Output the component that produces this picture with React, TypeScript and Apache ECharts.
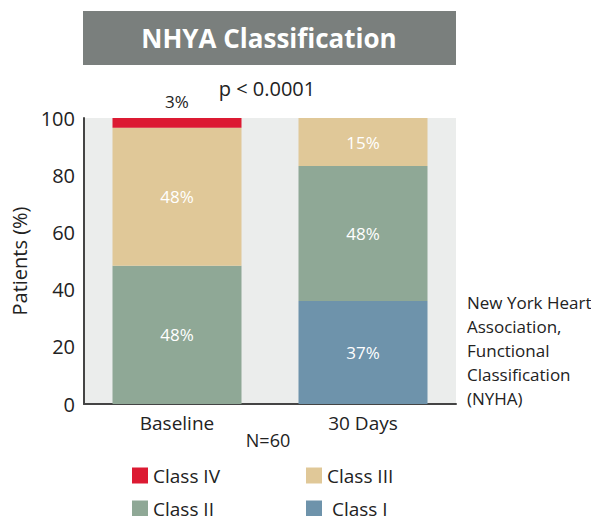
import React, { useEffect, useRef } from "react";
import * as echarts from "echarts";

const categories = ["Baseline", "30 Days"];
const classIV = [3.4, 0];
const classIII = [48.3, 16.8];
const classII = [48.3, 47.2];
const classI = [0, 36];
const labelsIV = ["3%", ""];
const labelsIII = ["48%", "15%"];
const labelsII = ["48%", "48%"];
const labelsI = ["", "37%"];
const yTicks = [0, 20, 40, 60, 80, 100];
const noteLines = ["New York Heart", "Association,", "Functional", "Classification", "(NYHA)"];

const FONT = "Open Sans";
const colors = {
  IV: "#DC1A32",
  III: "#E0C898",
  II: "#8FA896",
  I: "#6E93AB",
};

export default function App() {
  const ref = useRef<HTMLDivElement>(null);
  useEffect(() => {
    if (!ref.current) return;
    const chart = echarts.init(ref.current, null, { renderer: "svg" });
    const inside = (labels: string[]) => ({
      show: true,
      position: "inside",
      color: "#fff",
      fontFamily: FONT,
      fontSize: 17,
      formatter: (p: any) => labels[p.dataIndex],
    });
    const mk = (name: string, data: number[], color: string, label: any) => ({
      name,
      type: "bar",
      stack: "s",
      data,
      barWidth: 129,
      itemStyle: { color },
      label,
    });
    const legendItem = (name: string, left: number, top: number, fmt?: string) => ({
      data: [name],
      left,
      top,
      padding: 0,
      icon: "rect",
      itemWidth: 16,
      itemHeight: 16,
      selectedMode: false,
      formatter: fmt,
      textStyle: { fontFamily: FONT, fontSize: 19, color: "#222" },
    });
    chart.setOption({
      animation: false,
      grid: {
        left: 84,
        right: 143,
        top: 118,
        bottom: 120,
        show: true,
        backgroundColor: "#EBEDEC",
        borderWidth: 0,
      },
      xAxis: {
        type: "category",
        data: categories,
        axisLine: { lineStyle: { color: "#444", width: 2 } },
        axisTick: { show: false },
        axisLabel: { fontFamily: FONT, fontSize: 19, color: "#222", margin: 9 },
      },
      yAxis: {
        type: "value",
        min: 0,
        max: 100,
        interval: 20,
        name: "Patients (%)",
        nameLocation: "middle",
        nameGap: 48,
        nameTextStyle: { fontFamily: FONT, fontSize: 20, color: "#222" },
        axisLine: { show: true, lineStyle: { color: "#444", width: 2 } },
        axisTick: { show: false },
        splitLine: { show: false },
        axisLabel: {
          fontFamily: FONT,
          fontSize: 20,
          color: "#222",
          margin: 9,
          formatter: (v: number) => (yTicks.includes(v) ? String(v) : ""),
        },
      },
      legend: [
        legendItem("Class IV", 132, 466),
        legendItem("Class III", 306, 466),
        legendItem("Class II", 132, 499),
        legendItem("Class I", 306, 499, " {name}"),
      ],
      series: [
        mk("Class I", classI, colors.I, inside(labelsI)),
        mk("Class II", classII, colors.II, inside(labelsII)),
        mk("Class III", classIII, colors.III, inside(labelsIII)),
        mk("Class IV", classIV, colors.IV, {
          show: true,
          position: "top",
          distance: 8,
          color: "#222",
          fontFamily: FONT,
          fontSize: 17,
          formatter: (p: any) => labelsIV[p.dataIndex],
        }),
      ],
      graphic: [
        {
          type: "rect",
          shape: { x: 83, y: 11, width: 373, height: 54 },
          style: { fill: "#7A7F7D" },
        },
        {
          type: "text",
          x: 269,
          y: 38,
          style: {
            text: "NHYA Classification",
            fill: "#fff",
            font: `bold 26px "${FONT}"`,
            align: "center",
            verticalAlign: "middle",
          },
        },
        {
          type: "text",
          x: 267,
          y: 88,
          style: {
            text: "p < 0.0001",
            fill: "#222",
            font: `20px "${FONT}"`,
            align: "center",
            verticalAlign: "middle",
          },
        },
        {
          type: "text",
          x: 268,
          y: 440,
          style: {
            text: "N=60",
            fill: "#222",
            font: `18px "${FONT}"`,
            align: "center",
            verticalAlign: "middle",
          },
        },
        {
          type: "text",
          x: 467,
          y: 290,
          style: {
            text: noteLines.join("\n"),
            fill: "#222",
            font: `17px "${FONT}"`,
            lineHeight: 24,
            align: "left",
            verticalAlign: "top",
          },
        },
      ],
    });
    return () => chart.dispose();
  }, []);
  return <div ref={ref} style={{ width: 599, height: 524, margin: -8 }} />;
}
